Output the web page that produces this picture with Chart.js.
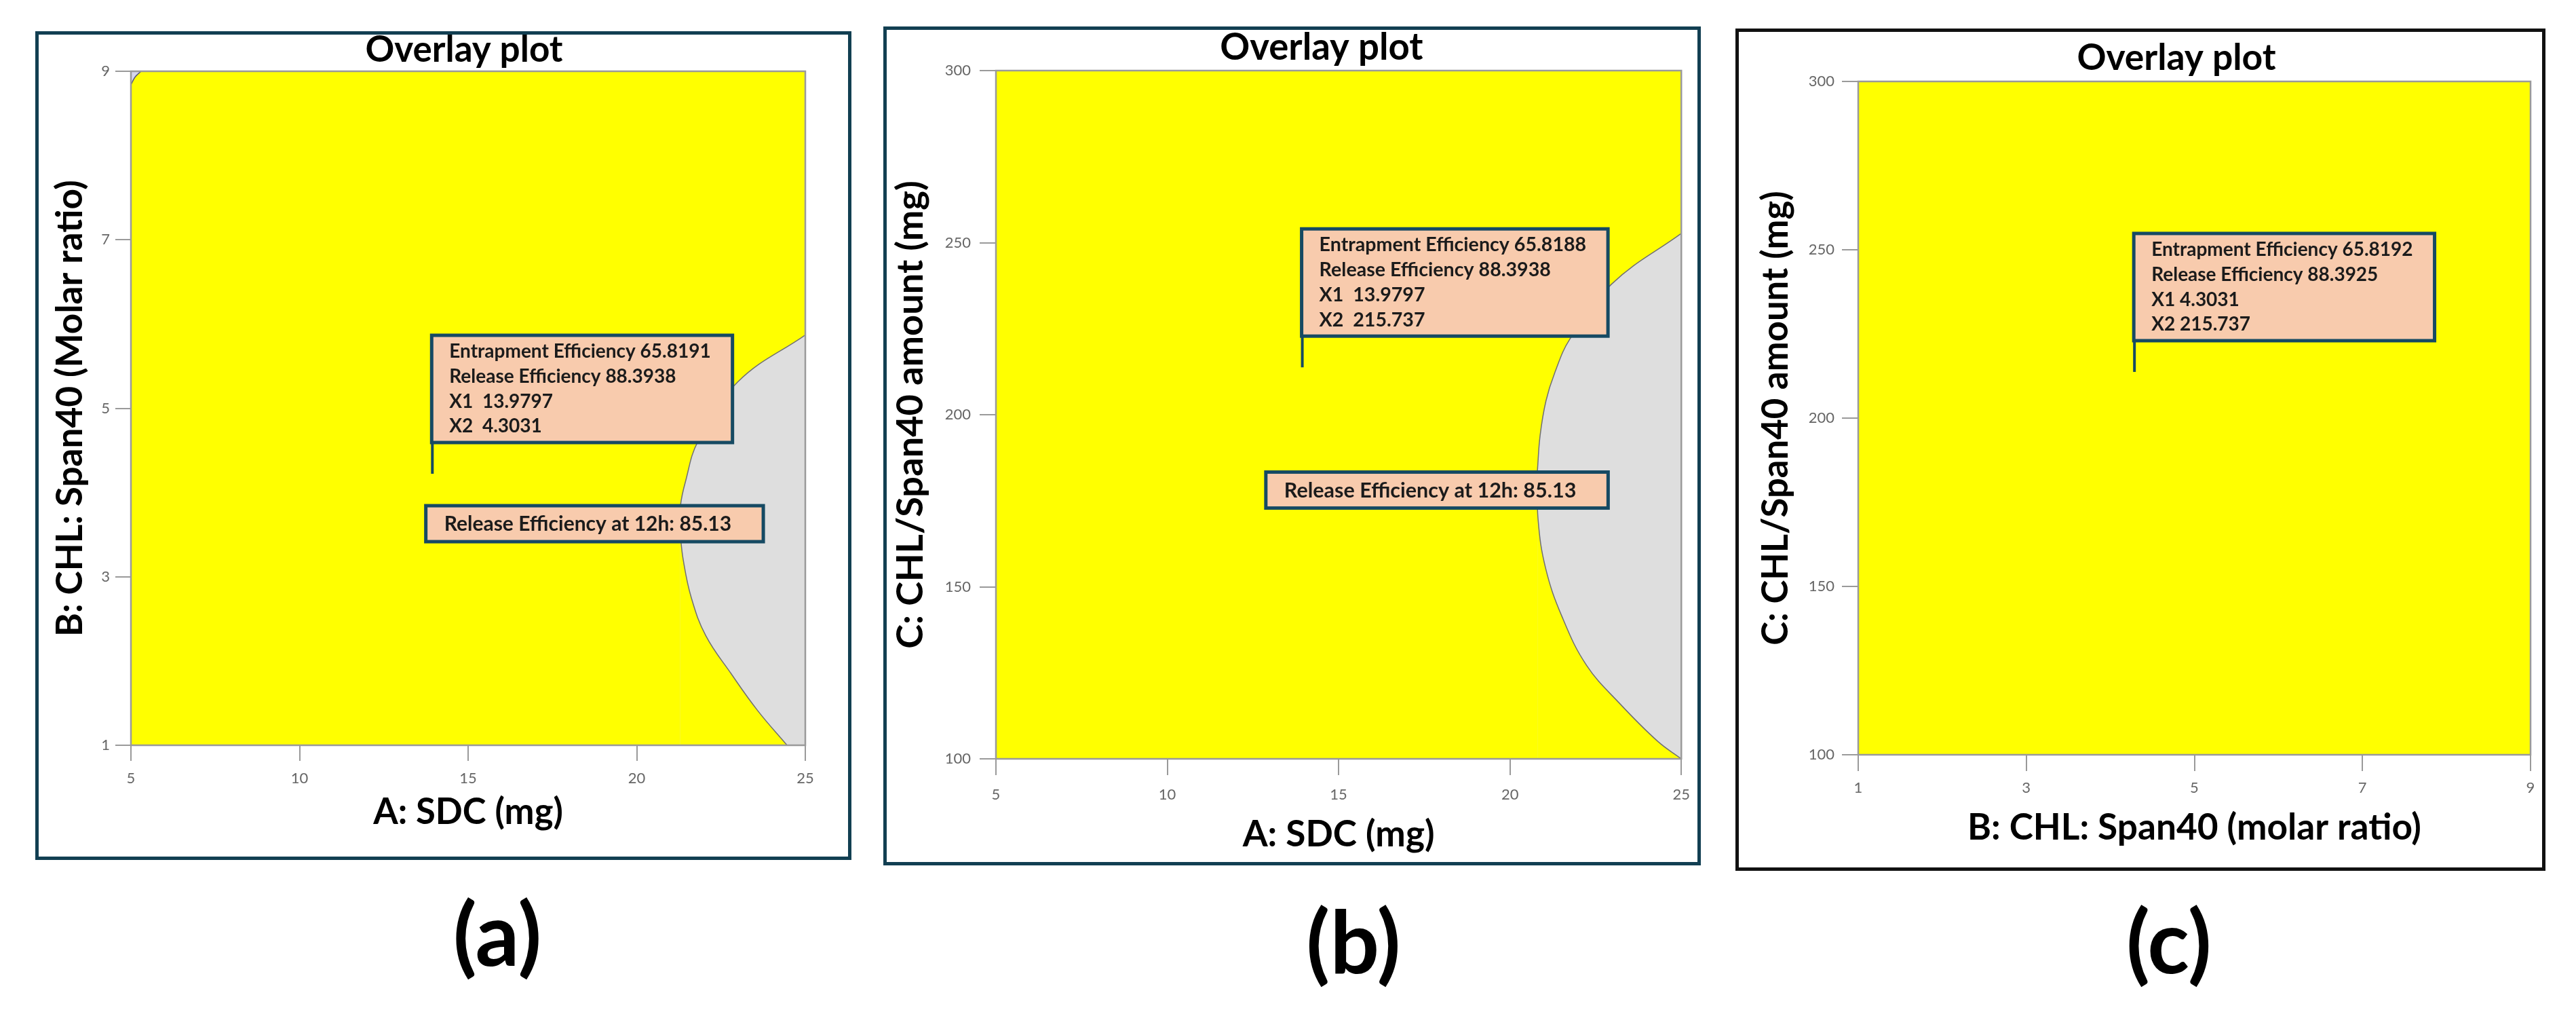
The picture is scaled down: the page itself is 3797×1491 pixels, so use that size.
<!DOCTYPE html>
<html>
<head>
<meta charset="utf-8">
<title>Overlay plots</title>
<script src="https://cdn.jsdelivr.net/npm/chart.js"></script>
<style>
  html, body { margin: 0; padding: 0; background: #fff; }
  #page { position: relative; width: 3797px; height: 1491px; overflow: hidden; font-family: Lato, sans-serif; }
  #page canvas { position: absolute; }
  .frame { position: absolute; box-sizing: border-box; border: 5px solid #123f52; pointer-events: none; }
  .tag { position: absolute; font: bold 128px Lato, sans-serif; line-height: 1; transform: translate(-50%, -50%); color: #000; }
</style>
</head>
<body>
<div id="page"></div>
<script>
// axis ticks
const sdcTicks = [5, 10, 15, 20, 25];
const ratioTicks = [1, 3, 5, 7, 9];
const amountTicks = [100, 150, 200, 250, 300];

// (a) grey region edge: upper and lower branches, from its leftmost point
const edgeA_upSdc = [21.28, 21.30, 21.44, 21.82, 22.99, 25.00];
const edgeA_upRatio = [3.55, 3.85, 4.12, 4.61, 5.31, 5.87];
const edgeA_loSdc = [21.28, 21.38, 21.62, 22.05, 22.80, 23.59, 24.46];
const edgeA_loRatio = [3.55, 3.20, 2.75, 2.30, 1.85, 1.41, 1.00];
// (a) tiny region in the top-left corner
const cornerA_sdc = [5.00, 5.12, 5.30];
const cornerA_ratio = [8.84, 8.93, 9.00];

// (b) grey region edge
const edgeB_upSdc = [20.80, 20.88, 21.05, 21.30, 21.75, 22.97, 25.00];
const edgeB_upAmount = [183.7, 194.0, 204.0, 212.0, 222.0, 238.0, 252.7];
const edgeB_loSdc = [20.80, 20.82, 21.04, 21.52, 22.24, 23.20, 24.31, 25.00];
const edgeB_loAmount = [183.7, 169.6, 155.4, 141.3, 127.1, 116.1, 105.1, 100.0];

// optimum flags for (a), (b), (c)
const optX1 = [13.9797, 13.9797, 4.3031];
const optX2 = [4.3031, 215.737, 215.737];
const entrapEff = [65.8191, 65.8188, 65.8192];
const releaseEff = [88.3938, 88.3938, 88.3925];
const release12h = 85.13;

// layout; *W entries are the text widths seen in the original figure
const panels = [
  {
    tag: '(a)', tagPos: [733, 1374], box: [52, 46, 1203, 1221], area: [141, 59, 1135, 1052], frame: '#123f52',
    xMin: 5, xMax: 25, xTicks: sdcTicks, yMin: 1, yMax: 9, yTicks: ratioTicks,
    xTitle: 'A: SDC (mg)', yTitle: 'B: CHL: Span40 (Molar ratio)',
    titleW: 291, xTitleW: 280, yTitleW: 673, flagW: 386, contourW: 423,
    titlePos: [632, 28], xTitleMid: 70, yTitleMid: 52, xTickPad: 13, yTickPad: 8, tickLen: 23, sep: '  ',
    upper: { xs: edgeA_upSdc, ys: edgeA_upRatio }, lower: { xs: edgeA_loSdc, ys: edgeA_loRatio },
    corner: { xs: cornerA_sdc, ys: cornerA_ratio },
    contourAt: [18.75, 3.63]
  },
  {
    tag: '(b)', tagPos: [1995, 1385], box: [1302, 39, 1205, 1236], area: [166, 65, 1181, 1079], frame: '#123f52',
    xMin: 5, xMax: 25, xTicks: sdcTicks, yMin: 100, yMax: 300, yTicks: amountTicks,
    xTitle: 'A: SDC (mg)', yTitle: 'C: CHL/Span40 amount (mg)',
    titleW: 299, xTitleW: 283, yTitleW: 690, flagW: 394, contourW: 431,
    titlePos: [646, 31], xTitleMid: 45, yTitleMid: 41, xTickPad: 16, yTickPad: 13, tickLen: 24, sep: '  ',
    upper: { xs: edgeB_upSdc, ys: edgeB_upAmount }, lower: { xs: edgeB_loSdc, ys: edgeB_loAmount },
    corner: null,
    contourAt: [17.87, 178.1]
  },
  {
    tag: '(c)', tagPos: [3197, 1385], box: [2558, 42, 1194, 1241], area: [181, 78, 1172, 1070], frame: '#111111',
    xMin: 1, xMax: 9, xTicks: ratioTicks, yMin: 100, yMax: 300, yTicks: amountTicks,
    xTitle: 'B: CHL: Span40 (molar ratio)', yTitle: 'C: CHL/Span40 amount (mg)',
    titleW: 293, xTitleW: 669, yTitleW: 670, flagW: 385, contourW: 0,
    titlePos: [650, 44], xTitleMid: 63, yTitleMid: 60, xTickPad: 12, yTickPad: 11, tickLen: 24, sep: ' ',
    upper: null, lower: null, corner: null,
    contourAt: null
  }
];

const YELLOW = '#ffff00';
const GREY = '#dedede';
const EDGE = '#707070';

// font size (bold Lato) that gives a text the wanted width
const measureCtx = document.createElement('canvas').getContext('2d');
function fitSize(text, width) {
  measureCtx.font = 'bold 100px Lato';
  return Math.round(100 * width / measureCtx.measureText(text).width * 10) / 10;
}

// grey frame round the plot area
const framePlugin = {
  id: 'plotFrame',
  afterDatasetsDraw(chart) {
    const { ctx, chartArea: a } = chart;
    ctx.save();
    ctx.strokeStyle = '#9a9a9a';
    ctx.lineWidth = 2.5;
    ctx.strokeRect(a.left, a.top, a.width, a.height);
    ctx.restore();
  }
};

// "Overlay plot" heading, a little left of the plot centre as in the original
const headingPlugin = {
  id: 'heading',
  afterDraw(chart, args, o) {
    const ctx = chart.ctx;
    ctx.save();
    ctx.font = 'bold ' + o.size + 'px Lato';
    ctx.fillStyle = '#000';
    ctx.textAlign = 'center';
    ctx.textBaseline = 'middle';
    ctx.fillText(o.text, o.x, o.y);
    ctx.restore();
  }
};

// peach flag boxes (optimum + contour label)
const flagPlugin = {
  id: 'flags',
  afterDatasetsDraw(chart, args, o) {
    const ctx = chart.ctx;
    ctx.save();
    ctx.textBaseline = 'middle';
    ctx.strokeStyle = '#164a63';
    if (o.lines) {
      ctx.font = 'bold ' + o.size + 'px Lato';
      const pt = chart.getDatasetMeta(o.datasetIndex).data[0];
      const px = pt.x, py = pt.y;
      const w = Math.max(...o.lines.map(t => ctx.measureText(t).width)) + 58;
      const h = 158;
      const left = px - 3, bottom = py - 36, top = bottom - h;
      ctx.lineWidth = 4;
      ctx.beginPath();
      ctx.moveTo(left + 1, py + 10);
      ctx.lineTo(left + 1, bottom);
      ctx.stroke();
      ctx.lineWidth = 5;
      ctx.fillStyle = '#f8cbad';
      ctx.fillRect(left, top, w, h);
      ctx.strokeRect(left, top, w, h);
      ctx.fillStyle = '#1b1b1b';
      o.lines.forEach((t, k) => ctx.fillText(t, left + 26, top + 24 + k * 36.8));
    }
    if (o.contour) {
      const c = o.contour;
      ctx.font = 'bold ' + c.size + 'px Lato';
      const cx = chart.scales.x.getPixelForValue(c.x);
      const cy = chart.scales.y.getPixelForValue(c.y);
      const w = ctx.measureText(c.text).width + 74, h = 53;
      const left = cx - w / 2, top = cy - h / 2;
      ctx.lineWidth = 5;
      ctx.fillStyle = '#f8cbad';
      ctx.fillRect(left, top, w, h);
      ctx.strokeRect(left, top, w, h);
      ctx.fillStyle = '#1b1b1b';
      ctx.fillText(c.text, left + 27, cy + 1);
    }
    ctx.restore();
  }
};

function pts(s) {
  return s.xs.map((x, k) => ({ x: x, y: s.ys[k] }));
}

function makePanel(p, i) {
  const page = document.getElementById('page');
  const [bx, by, W, H] = p.box;
  const [aL, aT, aR, aB] = p.area;

  const cv = document.createElement('canvas');
  cv.width = W; cv.height = H;
  cv.style.left = bx + 'px'; cv.style.top = by + 'px';
  cv.style.width = W + 'px'; cv.style.height = H + 'px';
  page.appendChild(cv);

  const fr = document.createElement('div');
  fr.className = 'frame';
  fr.style.left = bx + 'px'; fr.style.top = by + 'px';
  fr.style.width = W + 'px'; fr.style.height = H + 'px';
  fr.style.borderColor = p.frame;
  page.appendChild(fr);

  const tg = document.createElement('div');
  tg.className = 'tag';
  tg.textContent = p.tag;
  tg.style.left = p.tagPos[0] + 'px'; tg.style.top = p.tagPos[1] + 'px';
  page.appendChild(tg);

  const xTitleSize = fitSize(p.xTitle, p.xTitleW);
  const yTitleSize = fitSize(p.yTitle, p.yTitleW);
  const flagLines = [
    'Entrapment Efficiency ' + entrapEff[i],
    'Release Efficiency ' + releaseEff[i],
    'X1' + p.sep + optX1[i],
    'X2' + p.sep + optX2[i]
  ];
  const contourText = 'Release Efficiency at 12h: ' + release12h;

  // design space: whole plot filled down from the top edge
  const datasets = [{
    label: 'Design space',
    data: [{ x: p.xMin, y: p.yMax }, { x: p.xMax, y: p.yMax }],
    fill: 'start', backgroundColor: YELLOW, borderWidth: 0, pointRadius: 0, order: 5
  }];
  if (p.upper) {
    // grey under the upper branch, then yellow again under the lower branch
    datasets.push({
      label: 'Outside criteria', data: pts(p.upper), fill: 'start', backgroundColor: GREY,
      borderColor: EDGE, borderWidth: 1.5, tension: 0.4, pointRadius: 0, order: 4
    });
    datasets.push({
      label: 'Design space (lower)', data: pts(p.lower), fill: 'start', backgroundColor: YELLOW,
      borderColor: EDGE, borderWidth: 1.5, tension: 0.4, pointRadius: 0, order: 3
    });
  }
  if (p.corner) {
    datasets.push({
      label: 'Corner', data: pts(p.corner), fill: 'end', backgroundColor: '#d6d6ea',
      borderColor: '#55557a', borderWidth: 1.5, tension: 0.3, pointRadius: 0, order: 2
    });
  }
  datasets.push({
    label: 'Optimum',
    data: [{ x: optX1[i], y: optX2[i] }],
    showLine: false, pointRadius: 0, order: 0
  });

  const tickFont = { family: 'Lato', size: 22 };
  const gridOpts = { drawOnChartArea: false, drawTicks: true, tickLength: p.tickLen, color: '#9a9a9a', lineWidth: 2 };

  new Chart(cv, {
    type: 'line',
    data: { datasets: datasets },
    plugins: [framePlugin, flagPlugin, headingPlugin],
    options: {
      responsive: false,
      animation: false,
      devicePixelRatio: 1,
      layout: { padding: { left: 0, top: aT, right: W - aR, bottom: 0 } },
      scales: {
        x: {
          type: 'linear', position: 'bottom', min: p.xMin, max: p.xMax,
          afterBuildTicks: s => { s.ticks = p.xTicks.map(v => ({ value: v })); },
          afterFit: s => { s.height = H - aB; },
          grid: gridOpts,
          border: { display: true, color: '#9a9a9a', width: 2 },
          ticks: { padding: p.xTickPad, color: '#666', font: tickFont, maxRotation: 0, autoSkip: false },
          title: {
            display: true, text: p.xTitle, color: '#000',
            font: { family: 'Lato', size: xTitleSize, weight: 'bold', lineHeight: 1 },
            padding: { top: 0, bottom: p.xTitleMid - xTitleSize / 2 }
          }
        },
        y: {
          type: 'linear', position: 'left', min: p.yMin, max: p.yMax,
          afterBuildTicks: s => { s.ticks = p.yTicks.map(v => ({ value: v })); },
          afterFit: s => { s.width = aL; },
          grid: gridOpts,
          border: { display: true, color: '#9a9a9a', width: 2 },
          ticks: { padding: p.yTickPad, color: '#666', font: tickFont, autoSkip: false },
          title: {
            display: true, text: p.yTitle, color: '#000',
            font: { family: 'Lato', size: yTitleSize, weight: 'bold', lineHeight: 1 },
            padding: { top: p.yTitleMid - yTitleSize / 2, bottom: 0 }
          }
        }
      },
      plugins: {
        legend: { display: false },
        tooltip: { enabled: false },
        title: { display: false },
        heading: {
          text: 'Overlay plot', size: fitSize('Overlay plot', p.titleW),
          x: p.titlePos[0], y: p.titlePos[1]
        },
        flags: {
          datasetIndex: datasets.length - 1,
          size: fitSize(flagLines[0], p.flagW),
          lines: flagLines,
          contour: p.contourAt ? {
            x: p.contourAt[0], y: p.contourAt[1], text: contourText, size: fitSize(contourText, p.contourW)
          } : null
        }
      }
    }
  });
}

document.fonts.ready.then(() => panels.forEach(makePanel));
</script>
</body>
</html>
